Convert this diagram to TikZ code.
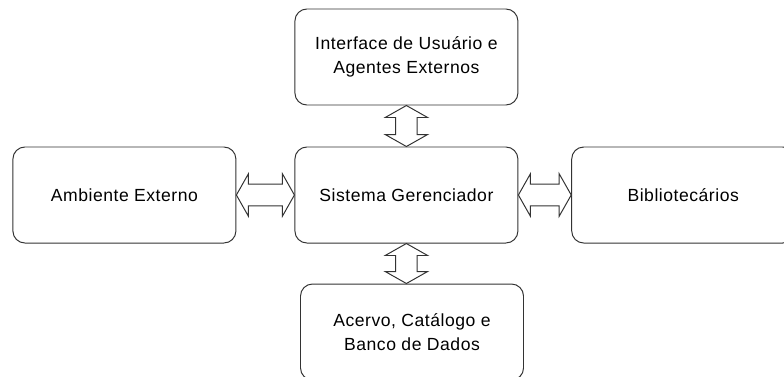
\documentclass[tikz,border=0pt]{standalone}
\usepackage{fontspec}
\setmainfont{Liberation Sans}[LetterSpace=3]
\usepackage{xcolor}
\usepackage{tikz}
\usetikzlibrary{positioning,calc}
\tikzset{block/.style={rectangle,rounded corners=0.3cm,draw=black!80,line width=0.7pt,minimum width=5.575cm,minimum height=2.4cm,inner sep=2pt,align=center,font=\fontsize{12.5}{17}\selectfont}}
\tikzset{both way/.style={draw=black!80,line width=0.7pt,fill=white,to path={
  ($(\tikztostart)!0.3cm!(\tikztotarget)$) coordinate (ha)
  ($(\tikztotarget)!0.3cm!(\tikztostart)$) coordinate (hb)
  (\tikztostart) -- ($(ha)!0.53cm!90:(\tikztotarget)$) -- ($(ha)!0.27cm!90:(\tikztotarget)$)
  -- ($(hb)!0.27cm!-90:(\tikztostart)$) -- ($(hb)!0.53cm!-90:(\tikztostart)$)
  -- (\tikztotarget) -- ($(hb)!0.53cm!90:(\tikztostart)$) -- ($(hb)!0.27cm!90:(\tikztostart)$)
  -- ($(ha)!0.27cm!-90:(\tikztotarget)$) -- ($(ha)!0.53cm!-90:(\tikztotarget)$) -- cycle}}}

\begin{document}
\begin{tikzpicture}[auto, on grid, ]
      \useasboundingbox (0,0) rectangle (19.6,-9.4);
      \node[block] (sys) at (10.16,-4.875) {Sistema Gerenciador};
      \node[block] (iface) [above = 3.45cm of sys] {Interface de Usuário e\\Agentes Externos};
      \node[block] (acervo) [below right = 3.425cm and 0.14cm of sys] {Acervo, Catálogo e\\Banco de Dados};
      \node[block] (amb) [left = 7.05cm of sys] {Ambiente Externo};
      \node[block] (bib) [right = 6.92cm of sys] {Bibliotecários};
      \path (amb.east) edge[both way] (sys.west);
      \path (sys.east) edge[both way] (bib.west);
      \path (iface.south) edge[both way] (sys.north);
      \path (sys.south) edge[both way] (sys.south |- acervo.north);
    \end{tikzpicture}
\end{document}
